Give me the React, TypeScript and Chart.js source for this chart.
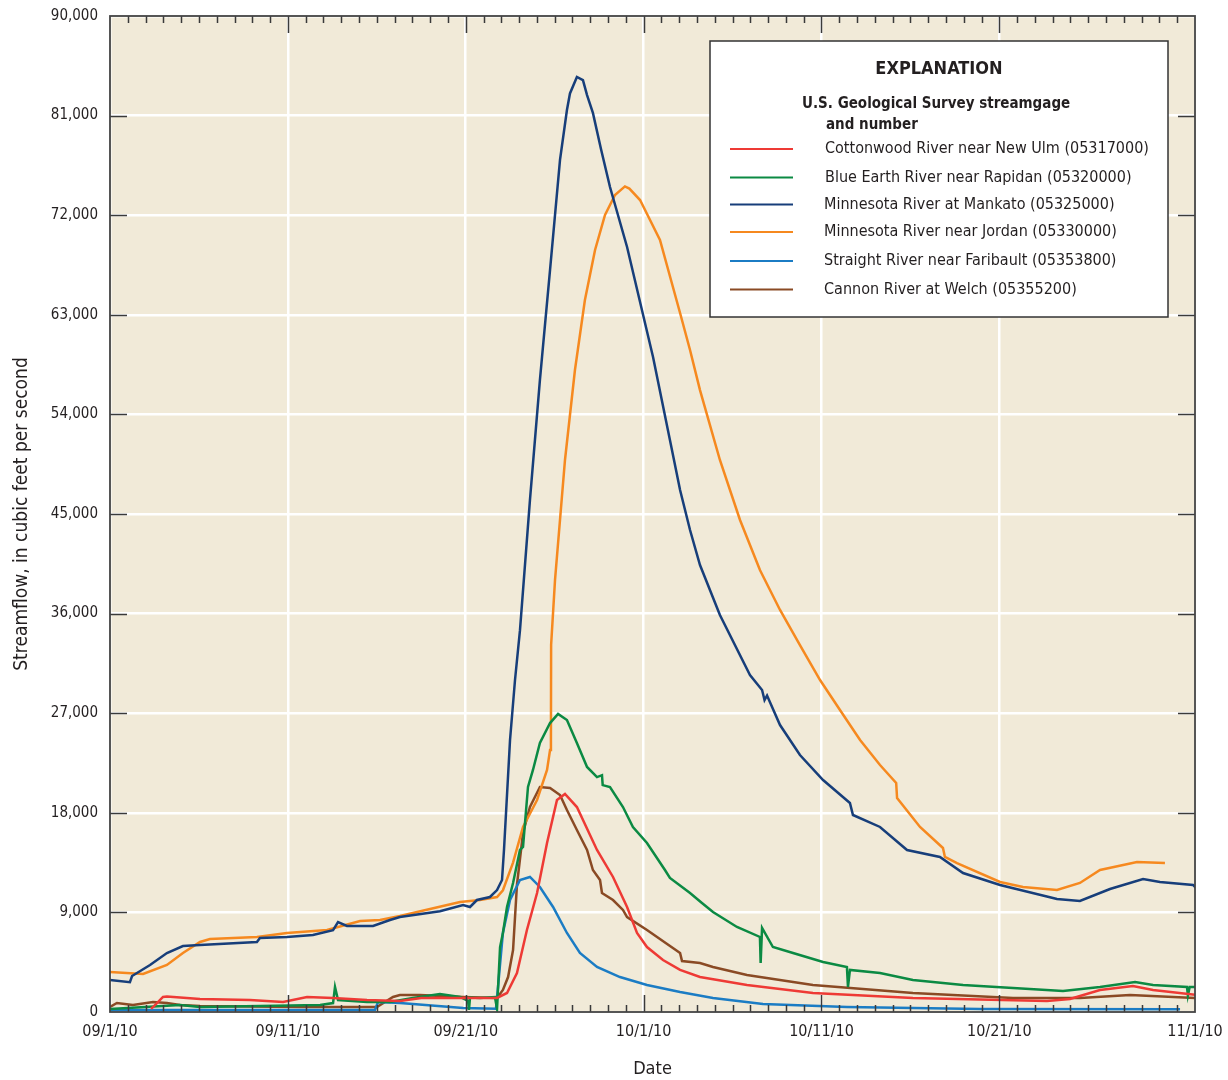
import React, { useEffect, useRef } from 'react';
import { Chart, registerables } from 'chart.js';
Chart.register(...registerables);

const FONT = "'Liberation Sans Narrow', 'DejaVu Sans Condensed', 'Arial Narrow', 'Liberation Sans', sans-serif";
const TEXT = '#231f20';

// X axis: days since 09/1/10
const tickDays = [0, 10, 20, 30, 40, 50, 61];
const tickLabels = ['09/1/10', '09/11/10', '09/21/10', '10/1/10', '10/11/10', '10/21/10', '11/1/10'];
const yMax = 90000;
const yStep = 9000;

const seriesNames = [
  'Cottonwood River near New Ulm (05317000)',
  'Blue Earth River near Rapidan (05320000)',
  'Minnesota River at Mankato (05325000)',
  'Minnesota River near Jordan (05330000)',
  'Straight River near Faribault (05353800)',
  'Cannon River at Welch (05355200)',
];
const seriesColors = ['#ee3a35', '#0b8a43', '#173e7a', '#f6891f', '#1b7cc4', '#8a4a24'];

const cottonwoodDays = [2.3, 2.42, 2.98, 3.2, 5.06, 7.87, 9.73, 11.08, 12.54, 14.45, 16.3, 17.5, 21.76, 22.32, 22.88, 23.44, 24.01, 24.57, 25.13, 25.58, 26.25, 27.38, 28.28, 29.07, 29.63, 30.19, 31.09, 32.05, 33.17, 35.81, 39.52, 45.14, 52.68, 53.97, 55.66, 57.51, 58.64, 61.06];
const cottonwoodFlow = [300, 450, 1360, 1400, 1170, 1080, 900, 1360, 1270, 1080, 1000, 1270, 1270, 1720, 3520, 7410, 10750, 15270, 19160, 19700, 18520, 14640, 12200, 9490, 7140, 5870, 4700, 3800, 3160, 2440, 1720, 1270, 990, 1170, 1990, 2350, 1990, 1540];

const blueEarthDays = [0, 3.94, 5.06, 11.81, 12.54, 12.65, 12.82, 14.45, 15.74, 17.03, 18.55, 19.68, 20.13, 20.18, 20.24, 20.8, 21.64, 21.76, 21.93, 22.09, 22.32, 22.66, 23.05, 23.22, 23.5, 23.78, 24.17, 24.74, 25.19, 25.69, 26.25, 26.82, 27.38, 27.66, 27.7, 28.11, 28.84, 29.4, 30.19, 31.2, 31.48, 32.61, 33.28, 33.9, 35.25, 36.54, 36.58, 36.66, 37.27, 38.4, 40.09, 41.43, 41.49, 41.6, 43.29, 45.14, 47.96, 50.77, 53.58, 55.66, 57.63, 58.64, 60.55, 60.6, 60.7, 61.06];
const blueEarthFlow = [270, 630, 450, 630, 810, 2260, 1080, 900, 900, 1270, 1630, 1360, 1000, 200, 1300, 1270, 1360, 300, 5870, 7140, 9490, 11660, 14640, 14910, 20330, 21870, 24310, 26110, 26930, 26380, 24310, 22140, 21230, 21400, 20500, 20330, 18520, 16720, 15270, 12830, 12110, 10750, 9850, 9040, 7680, 6780, 4430, 7590, 5870, 5330, 4520, 4070, 2260, 3800, 3520, 2890, 2440, 2170, 1900, 2260, 2710, 2440, 2260, 1500, 2260, 2260];

const mankatoDays = [0, 1.12, 1.24, 2.25, 3.2, 4.1, 5.06, 8.26, 8.43, 9.95, 11.41, 12.54, 12.82, 13.32, 14.79, 15.74, 16.3, 18.55, 19.85, 20.24, 20.63, 21.36, 21.76, 22.04, 22.15, 22.49, 22.77, 23.05, 23.61, 24.17, 24.29, 24.74, 25.3, 25.69, 25.86, 26.25, 26.59, 26.82, 27.15, 27.6, 28.11, 29.07, 30.53, 31.48, 32.05, 32.61, 33.17, 34.29, 35.98, 36.66, 36.8, 36.94, 37.67, 38.79, 40.09, 41.6, 41.77, 43.29, 44.81, 46.66, 47.96, 50.04, 53.24, 54.53, 56.22, 58.08, 59.03, 60.89, 61.06];
const mankatoFlow = [2900, 2700, 3250, 4250, 5330, 5960, 6050, 6330, 6690, 6780, 6960, 7400, 8130, 7770, 7770, 8310, 8580, 9100, 9670, 9490, 10120, 10390, 11020, 11930, 14640, 24580, 30000, 34500, 46260, 57100, 59190, 67050, 77000, 81500, 83000, 84490, 84200, 82860, 81240, 78000, 74550, 69130, 59190, 51690, 47170, 43550, 40390, 35870, 30450, 29100, 28190, 28600, 25930, 23220, 20960, 18880, 17800, 16720, 14640, 14010, 12560, 11480, 10210, 10030, 11110, 12020, 11750, 11480, 11200];

const jordanDays = [0, 1.86, 3.2, 4.1, 5.06, 5.62, 8.26, 9.95, 12.2, 14.06, 15.18, 16.3, 19.68, 20.8, 21.76, 22.09, 22.66, 23.22, 24.01, 24.57, 24.74, 24.79, 24.8, 25.02, 25.58, 26.14, 26.7, 27.27, 27.83, 28.39, 28.95, 29.2, 29.8, 30.92, 32.05, 32.61, 33.17, 34.29, 35.42, 36.54, 37.67, 38.79, 39.92, 41.04, 42.17, 43.29, 44.2, 44.25, 45.54, 46.83, 46.94, 47.62, 50.04, 51.33, 53.24, 54.53, 55.66, 57.74, 59.31];
const jordanFlow = [3610, 3430, 4250, 5330, 6330, 6600, 6780, 7140, 7410, 8220, 8310, 8670, 9940, 10120, 10390, 11000, 13500, 16720, 19160, 21870, 23670, 24500, 33160, 39040, 49880, 58010, 64340, 68860, 72020, 73820, 74600, 74400, 73370, 69760, 63160, 59820, 56200, 49880, 44460, 39940, 36330, 33160, 30000, 27290, 24580, 22320, 20700, 19340, 16720, 14820, 14010, 13460, 11750, 11300, 11020, 11660, 12830, 13550, 13460];

const straightDays = [0, 14.9, 15.07, 16.3, 17.03, 19.85, 21.7, 21.8, 22.09, 22.49, 23.05, 23.61, 24.17, 24.91, 25.69, 26.42, 27.38, 28.67, 30.19, 32.05, 33.9, 36.71, 41.43, 48.91, 60.16];
const straightFlow = [180, 200, 900, 810, 720, 360, 300, 1990, 7140, 10120, 11930, 12200, 11300, 9490, 7140, 5330, 4070, 3160, 2440, 1810, 1270, 720, 450, 270, 250];

const cannonDays = [0, 0.39, 1.29, 2.42, 3.2, 3.94, 5.06, 10.68, 15.01, 15.91, 16.3, 17.43, 19.85, 21.76, 22.09, 22.38, 22.66, 22.88, 23.22, 23.61, 24.17, 24.74, 25.3, 25.69, 26.25, 26.82, 27.15, 27.55, 27.66, 28.28, 28.84, 29.07, 30.19, 32.05, 32.16, 33.17, 33.9, 35.81, 39.52, 45.14, 50.77, 54.53, 57.35, 61.06];
const cannonFlow = [450, 810, 630, 900, 810, 630, 540, 450, 450, 1360, 1540, 1540, 1360, 1270, 1990, 3160, 5600, 11500, 16170, 18520, 20330, 20240, 19610, 18250, 16450, 14640, 12830, 11930, 10750, 10120, 9220, 8580, 7410, 5330, 4600, 4430, 4070, 3340, 2440, 1720, 1270, 1270, 1540, 1270];

const seriesDays = [cottonwoodDays, blueEarthDays, mankatoDays, jordanDays, straightDays, cannonDays];
const seriesFlow = [cottonwoodFlow, blueEarthFlow, mankatoFlow, jordanFlow, straightFlow, cannonFlow];

const framePlugin = {
  id: 'framePlugin',
  beforeDraw(chart: any) {
    const { ctx, chartArea: a } = chart;
    ctx.save();
    ctx.fillStyle = '#f1ead8';
    ctx.fillRect(a.left, a.top, a.right - a.left, a.bottom - a.top);
    ctx.restore();
  },
  afterDatasetsDraw(chart: any) {
    const { ctx, chartArea: a, scales } = chart;
    const xs = scales.x;
    const ys = scales.y;
    ctx.save();
    ctx.strokeStyle = '#3a3a3a';
    ctx.lineWidth = 1.5;
    ctx.beginPath();
    for (let d = 1; d < 61; d++) {
      const px = Math.round(xs.getPixelForValue(d)) + 0.5;
      const len = tickDays.includes(d) ? 17 : 7;
      ctx.moveTo(px, a.bottom);
      ctx.lineTo(px, a.bottom - len);
      ctx.moveTo(px, a.top);
      ctx.lineTo(px, a.top + len);
    }
    for (let v = yStep; v < yMax; v += yStep) {
      const py = Math.round(ys.getPixelForValue(v)) + 0.5;
      ctx.moveTo(a.left, py);
      ctx.lineTo(a.left + 17, py);
      ctx.moveTo(a.right, py);
      ctx.lineTo(a.right - 17, py);
    }
    ctx.stroke();
    ctx.strokeStyle = '#444';
    ctx.lineWidth = 1.8;
    ctx.strokeRect(a.left, a.top, a.right - a.left, a.bottom - a.top);

    // Explanation box
    const bx = 710, by = 41, bw = 458, bh = 276;
    ctx.fillStyle = '#ffffff';
    ctx.fillRect(bx, by, bw, bh);
    ctx.strokeStyle = '#333';
    ctx.lineWidth = 1.5;
    ctx.strokeRect(bx, by, bw, bh);
    ctx.fillStyle = TEXT;
    ctx.textBaseline = 'alphabetic';
    ctx.textAlign = 'center';
    ctx.font = `bold 18px ${FONT}`;
    ctx.fillText('EXPLANATION', 939, 74);
    ctx.textAlign = 'left';
    ctx.font = `bold 15px ${FONT}`;
    ctx.fillText('U.S. Geological Survey streamgage', 802, 108);
    ctx.fillText('and number', 826, 129);
    const rows = [149, 177.5, 204.5, 232, 261, 289.5];
    ctx.font = `16px ${FONT}`;
    ctx.textBaseline = 'middle';
    chart.data.datasets.forEach((ds: any, i: number) => {
      const y = rows[i];
      ctx.strokeStyle = ds.borderColor;
      ctx.lineWidth = 2;
      ctx.beginPath();
      ctx.moveTo(730, y);
      ctx.lineTo(793, y);
      ctx.stroke();
      ctx.fillStyle = TEXT;
      ctx.fillText(ds.label, i < 2 ? 825 : 824, y);
    });
    ctx.restore();
  },
};

export default function App() {
  const ref = useRef<HTMLCanvasElement>(null);
  useEffect(() => {
    document.body.style.margin = '0';
    const datasets = seriesNames.map((name, i) => ({
      label: name,
      data: seriesDays[i].map((d, j) => ({ x: d, y: seriesFlow[i][j] })),
      borderColor: seriesColors[i],
      backgroundColor: seriesColors[i],
      borderWidth: 2.5,
      pointRadius: 0,
      fill: false,
      tension: 0,
    }));
    const chart = new Chart(ref.current as HTMLCanvasElement, {
      type: 'line',
      data: { datasets },
      plugins: [framePlugin],
      options: {
        responsive: false,
        animation: false,
        layout: { padding: { top: 16, right: 33, left: 0, bottom: 0 } },
        plugins: { legend: { display: false }, tooltip: { enabled: false } },
        scales: {
          x: {
            type: 'linear',
            min: 0,
            max: 61,
            afterBuildTicks: (scale: any) => {
              scale.ticks = tickDays.map((v) => ({ value: v }));
            },
            afterFit: (scale: any) => {
              scale.height = 68;
              scale.paddingLeft = 0;
              scale.paddingRight = 0;
            },
            grid: { color: '#ffffff', lineWidth: 2.5, drawTicks: false },
            border: { display: false },
            ticks: {
              autoSkip: false,
              maxRotation: 0,
              padding: 10,
              color: TEXT,
              font: { family: FONT, size: 16 },
              callback: (v: any) => tickLabels[tickDays.indexOf(Number(v))] ?? '',
            },
            title: {
              display: true,
              text: 'Date',
              color: TEXT,
              font: { family: FONT, size: 18 },
              padding: { top: 0, bottom: 0 },
            },
          },
          y: {
            min: 0,
            max: yMax,
            afterFit: (scale: any) => {
              scale.width = 110;
              scale.paddingTop = 0;
              scale.paddingBottom = 0;
            },
            grid: { color: '#ffffff', lineWidth: 2.5, drawTicks: false },
            border: { display: false },
            ticks: {
              stepSize: yStep,
              padding: 12,
              color: TEXT,
              font: { family: FONT, size: 15 },
              callback: (v: any) => Number(v).toLocaleString('en-US'),
            },
            title: {
              display: true,
              text: 'Streamflow, in cubic feet per second',
              color: TEXT,
              font: { family: FONT, size: 19 },
              padding: { top: 11, bottom: 0 },
            },
          },
        },
      },
    });
    return () => chart.destroy();
  }, []);
  return (
    <div style={{ width: 1228, height: 1080, overflow: 'hidden' }}>
      <canvas ref={ref} width={1228} height={1080} style={{ width: 1228, height: 1080, display: 'block' }} />
    </div>
  );
}
